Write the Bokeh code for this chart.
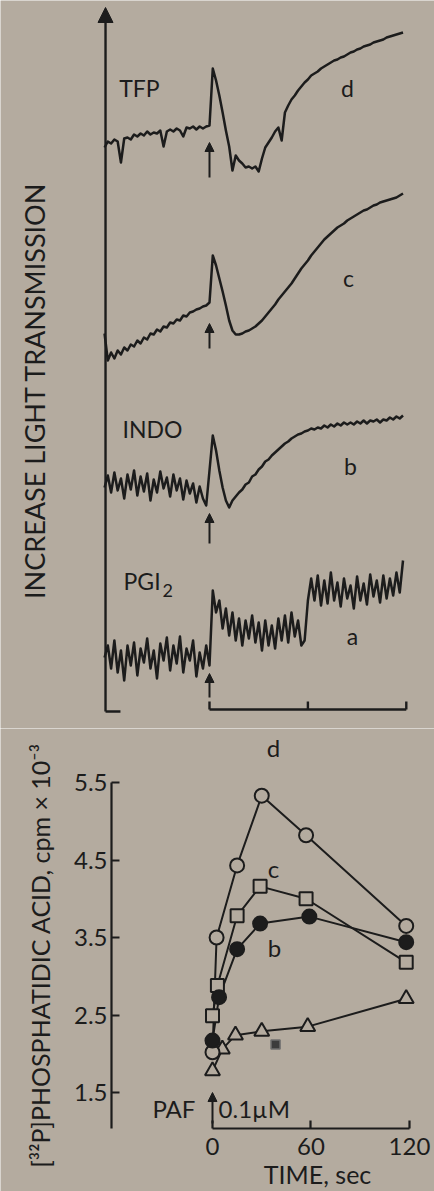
import numpy as np
from bokeh.plotting import figure
from bokeh.models import Arrow, NormalHead, Label, FixedTicker, Range1d, LinearAxis
from bokeh.embed import file_html
from bokeh.resources import INLINE

BG = "#b4ab9f"
INK = "#1c1c1c"
FONT = "Lato"

# ---------------- top panel: light-transmission traces ----------------
# sample times (s, PAF added at 0) and chart deflection (arbitrary units)
trace_time = list(range(-64, 120, 2))
trace_d = [564, 570, 568, 572, 570, 549, 573, 574, 572, 577,
           575, 578, 576, 580, 577, 579, 578, 581, 565, 580,
           582, 580, 583, 581, 575, 584, 583, 585, 582, 585,
           583, 585, 586,
           643, 631, 616, 599, 581, 565, 541, 556, 551, 548,
           544, 545, 543, 545, 540, 553, 564, 569, 574, 580,
           584, 571, 599, 606, 612, 616, 621, 625, 629, 632,
           636, 638, 640, 643, 645, 647, 649, 651, 652, 654,
           655, 657, 659, 660, 662, 663, 665, 666, 667, 669,
           670, 671, 672, 674, 675, 676, 677, 678, 679]
trace_c = [378, 351, 359, 353, 361, 357, 364, 361, 367, 365,
           371, 368, 374, 372, 378, 377, 382, 380, 385, 384,
           389, 388, 392, 391, 396, 395, 399, 400, 402, 403,
           405, 406, 409,
           456, 446, 433, 420, 406, 391, 381, 377, 377, 378,
           380, 381, 383, 385, 388, 391, 395, 399, 403, 407,
           412, 416, 420, 424, 428, 433, 438, 443, 447, 451,
           456, 460, 464, 468, 472, 475, 478, 481, 484, 486,
           488, 491, 493, 495, 497, 499, 501, 502, 504, 506,
           507, 509, 510, 511, 512, 513, 514, 516, 518]
trace_b = [224, 236, 219, 239, 221, 233, 213, 237, 222, 241,
           216, 235, 220, 238, 211, 232, 219, 240, 223, 234,
           215, 237, 221, 233, 212, 231, 218, 228, 209, 225,
           213, 206, 241,
           276, 261, 241, 224, 211, 204, 211, 215, 219, 222,
           227, 229, 235, 237, 242, 245, 250, 252, 256, 259,
           262, 265, 268, 270, 273, 275, 277, 278, 280, 281,
           283, 282, 284, 283, 286, 284, 287, 285, 288, 286,
           289, 287, 289, 287, 290, 288, 291, 288, 291, 290,
           292, 289, 292, 291, 294, 292, 295, 293, 296]
trace_a = [54, 66, 43, 71, 39, 61, 31, 66, 46, 69,
           36, 63, 49, 73, 43, 61, 33, 68, 51, 74,
           41, 66, 48, 75, 39, 63, 51, 71, 35, 59,
           43, 66, 46,
           121, 99, 111, 83, 103, 76, 99, 71, 93, 66,
           91, 73, 96, 69, 89, 61, 91, 66, 86, 63,
           93, 71, 96, 69, 99, 75, 91, 66, 71,
           111, 133, 111, 136, 106, 131, 108, 139, 111, 129,
           105, 133, 113, 126, 103, 135, 111, 128, 107, 137,
           115, 131, 109, 136, 113, 133, 116, 139, 119, 151]
trace_labels = ["d", "c", "b", "a"]
treatment_labels = ["TFP", "", "INDO", "PGI"]
paf_arrow_tail = [534, 363, 168, 14]
paf_arrow_tip = [569, 388, 198, 38]
time_bar_ticks = [0, 60, 120]

# ---------------- bottom panel: [32P]phosphatidic acid ----------------
time_d = [0, 2.5, 15, 30, 57, 118]
pa_d = [2.02, 3.50, 4.43, 5.33, 4.82, 3.65]
time_c = [0, 3, 15, 29, 57, 118]
pa_c = [2.49, 2.88, 3.78, 4.16, 4.00, 3.18]
time_b = [0, 4, 15, 29, 59, 118]
pa_b = [2.17, 2.73, 3.35, 3.68, 3.77, 3.44]
time_a = [0, 6, 14, 30, 58, 118]
pa_a = [1.78, 2.06, 2.24, 2.29, 2.35, 2.71]
stray_t = [38.4]
stray_v = [2.12]
y_ticks = [1.5, 2.5, 3.5, 4.5, 5.5]
y_tick_labels = ["1.5", "2.5", "3.5", "4.5", "5.5"]
x_ticks = [0, 60, 120]
x_tick_labels = ["0", "60", "120"]


def lbl(p, x, y, text, size="23px", align="center", baseline="middle", angle=0.0):
    p.add_layout(Label(x=x, y=y, text=text, text_font=FONT, text_font_size=size,
                       text_color=INK, text_align=align, text_baseline=baseline,
                       angle=angle))


# ======== top figure ========
p1 = figure(width=434, height=728, x_range=Range1d(-127.44, 137.20),
            y_range=Range1d(-17, 711), output_backend="svg", toolbar_location=None,
            x_axis_location=None, y_axis_location=None, min_border=0,
            background_fill_color=BG, border_fill_color=BG, outline_line_color=None)
p1.xgrid.grid_line_color = None
p1.ygrid.grid_line_color = None

for tr in (trace_d, trace_c, trace_b, trace_a):
    p1.line(trace_time, tr, line_width=2.5, line_color=INK, line_join="round")

# vertical axis with arrow head, and foot
p1.add_layout(Arrow(end=NormalHead(size=15, fill_color=INK, line_color=INK),
                    x_start=-63.4, y_start=0, x_end=-63.4, y_end=704,
                    line_width=2.4, line_color=INK))
p1.segment(x0=[-63.4], y0=[0], x1=[-54.3], y1=[0], line_width=2.4, line_color=INK)

# time scale bar 0-60-120 s
p1.segment(x0=[time_bar_ticks[0]], y0=[2], x1=[time_bar_ticks[-1]], y1=[2],
           line_width=2.4, line_color=INK)
p1.segment(x0=time_bar_ticks, y0=[2] * 3, x1=time_bar_ticks, y1=[10] * 3,
           line_width=2.4, line_color=INK)

# PAF addition arrows
for tail, tip in zip(paf_arrow_tail, paf_arrow_tip):
    p1.add_layout(Arrow(end=NormalHead(size=9, fill_color=INK, line_color=INK),
                        x_start=0, y_start=tail, x_end=0, y_end=tip,
                        line_width=2, line_color=INK))

# labels
lbl(p1, -42.7, 624, treatment_labels[0])
lbl(p1, -34.8, 283, treatment_labels[2])
lbl(p1, -52.4, 131, treatment_labels[3], align="left")
lbl(p1, -28.6, 121, "2", size="18px", align="left")
for (tx, ty), name in zip([(84.1, 624), (84.8, 434), (86.0, 246), (87.2, 76)], trace_labels):
    lbl(p1, tx, ty, name)
lbl(p1, -106.7, 321, "INCREASE LIGHT TRANSMISSION", size="27px", angle=np.pi / 2)

# ======== bottom figure (frame fills the canvas; axes fixed inside) ========
p2 = figure(width=434, height=463, x_range=Range1d(-129.13, 135.23),
            y_range=Range1d(0.223, 6.197), output_backend="svg", toolbar_location=None,
            x_axis_location=None, y_axis_location=None, min_border=0,
            background_fill_color=BG, border_fill_color=BG, outline_line_color=None)
p2.xgrid.grid_line_color = None
p2.ygrid.grid_line_color = None

yax = LinearAxis(fixed_location=-61.52, bounds=(1.0355, 5.5))
xax = LinearAxis(fixed_location=1.0355, bounds=(x_ticks[0], x_ticks[-1]))
p2.add_layout(yax, "left")
p2.add_layout(xax, "below")

yax.ticker = FixedTicker(ticks=y_ticks)
yax.major_label_overrides = {t: s for t, s in zip(y_ticks, y_tick_labels)}
yax.axis_label = "[³²P]PHOSPHATIDIC ACID, cpm × 10⁻³"
yax.axis_label_text_font = FONT
yax.axis_label_text_font_size = "25px"
yax.axis_label_text_font_style = "normal"
yax.axis_label_text_color = INK
yax.axis_label_standoff = 16

xax.ticker = FixedTicker(ticks=x_ticks)
xax.major_label_overrides = {t: s for t, s in zip(x_ticks, x_tick_labels)}

for ax in (xax, yax):
    ax.axis_line_width = 2.2
    ax.axis_line_color = INK
    ax.major_tick_line_width = 2.2
    ax.major_tick_line_color = INK
    ax.major_tick_in = 8
    ax.major_tick_out = 0
    ax.minor_tick_line_color = None
    ax.major_label_text_font = FONT
    ax.major_label_text_font_size = "24px"
    ax.major_label_text_color = INK
yax.major_label_standoff = 4
xax.major_label_standoff = 9

for tt, vv in ((time_a, pa_a), (time_d, pa_d), (time_c, pa_c), (time_b, pa_b)):
    p2.line(tt, vv, line_width=2, line_color=INK)

p2.scatter(time_a, pa_a, marker="triangle", size=15, fill_color=BG, line_color=INK, line_width=2)
p2.scatter(time_d, pa_d, marker="circle", size=14, fill_color=BG, line_color=INK, line_width=2)
p2.scatter(time_c, pa_c, marker="square", size=13, fill_color=BG, line_color=INK, line_width=2)
p2.scatter(time_b, pa_b, marker="circle", size=14, fill_color=INK, line_color=INK, line_width=2)
p2.scatter(stray_t, stray_v, marker="square", size=9, fill_color="#3c3c3c", line_color="#6d6d6d",
           line_width=1.5)

lbl(p2, 37.2, 5.95, trace_labels[0], size="24px")
lbl(p2, 37.2, 4.39, trace_labels[1], size="24px")
lbl(p2, 37.8, 3.37, trace_labels[2], size="24px")

p2.add_layout(Arrow(end=NormalHead(size=9, fill_color=INK, line_color=INK),
                    x_start=0, y_start=1.10, x_end=0, y_end=1.50,
                    line_width=2, line_color=INK))
lbl(p2, -10.4, 1.294, "PAF", size="24px", align="right")
lbl(p2, 3.7, 1.294, "0.1µM", size="24px", align="left")
lbl(p2, 64, 0.455, "TIME, sec", size="25px")

html = file_html([p1, p2], INLINE)
html = html.replace("<body>", '<body style="background-color:%s;">' % BG, 1)
open("out.html", "w").write(html)
